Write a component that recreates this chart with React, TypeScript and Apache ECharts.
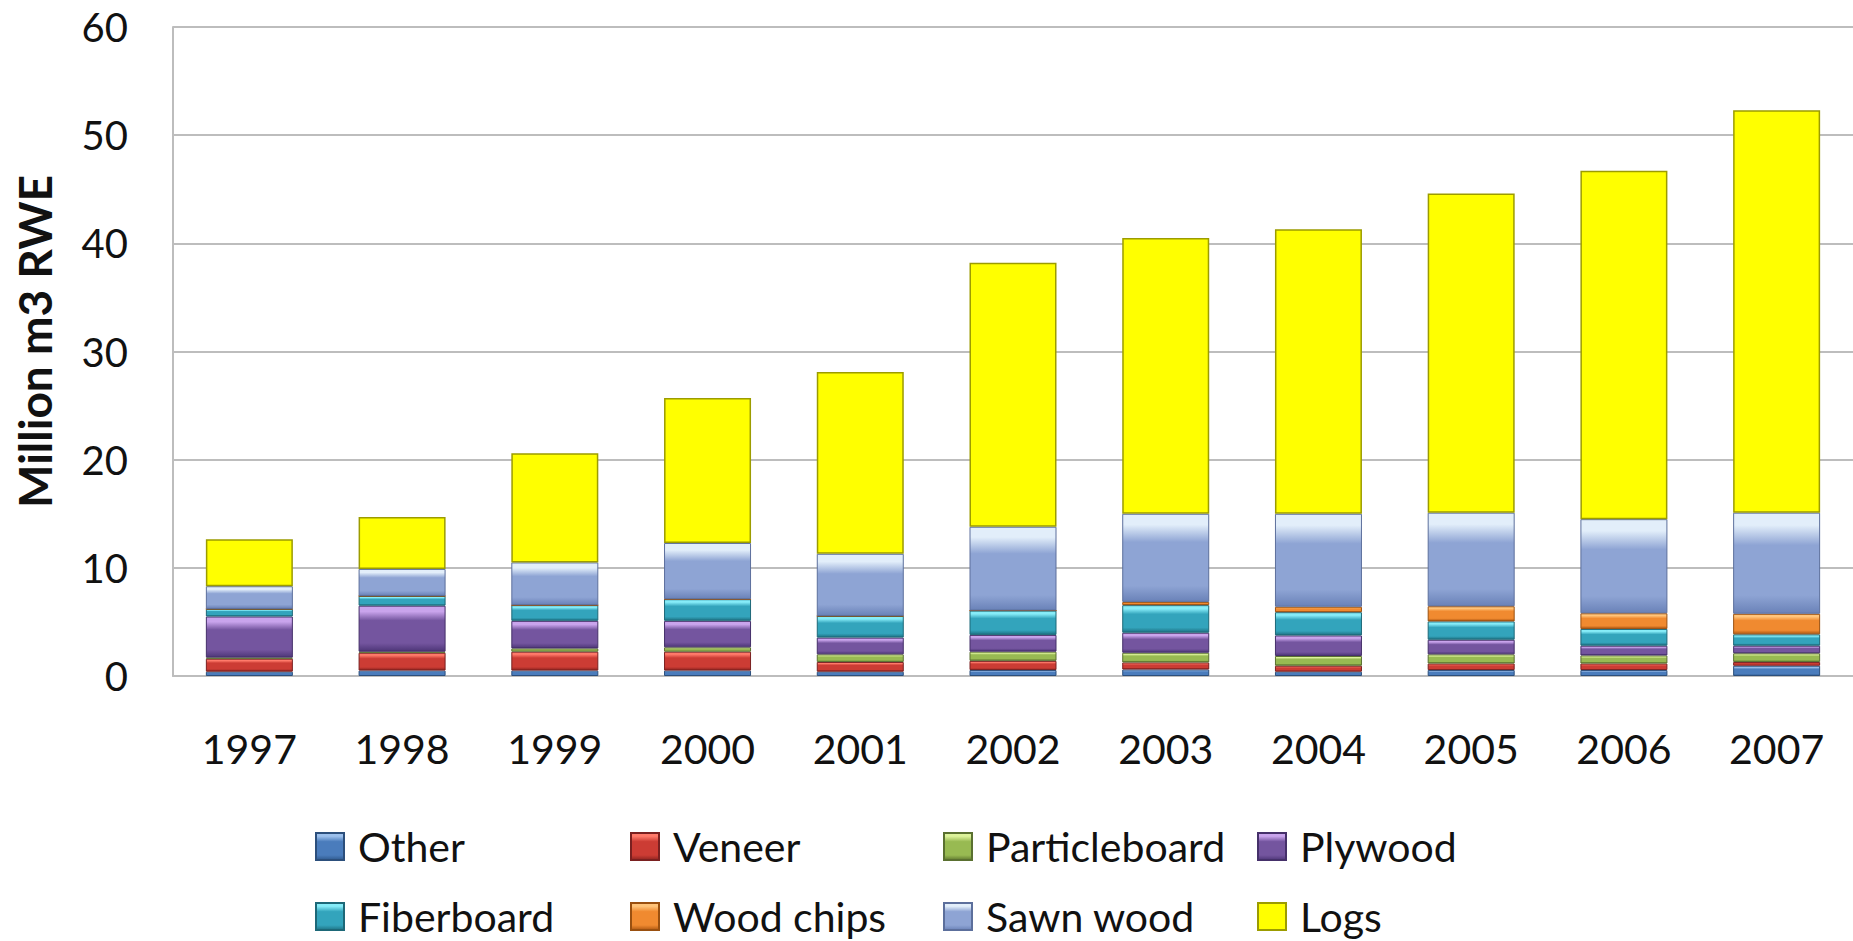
import React, { useEffect, useRef } from "react";
import * as echarts from "echarts";

const years = ["1997", "1998", "1999", "2000", "2001", "2002", "2003", "2004", "2005", "2006", "2007"];
const other = [0.4, 0.5, 0.5, 0.5, 0.4, 0.55, 0.6, 0.4, 0.55, 0.55, 0.95];
const veneer = [1.2, 1.65, 1.75, 1.75, 0.9, 0.85, 0.65, 0.55, 0.6, 0.6, 0.35];
const particleboard = [0.1, 0.1, 0.3, 0.4, 0.7, 0.85, 0.9, 0.9, 0.85, 0.75, 0.8];
const plywood = [3.8, 4.25, 2.55, 2.45, 1.55, 1.55, 1.85, 1.9, 1.35, 0.9, 0.7];
const fiberboard = [0.7, 0.9, 1.45, 2.0, 2.0, 2.25, 2.55, 2.15, 1.7, 1.55, 1.05];
const woodChips = [0, 0, 0, 0, 0, 0, 0.3, 0.5, 1.4, 1.45, 1.9];
const sawnWood = [2.1, 2.5, 3.95, 5.2, 5.75, 7.75, 8.15, 8.6, 8.65, 8.7, 9.35];
const logs = [4.35, 4.8, 10.1, 13.4, 16.8, 24.4, 25.5, 26.3, 29.5, 32.2, 37.2];

const seriesNames = ["Other", "Veneer", "Particleboard", "Plywood", "Fiberboard", "Wood chips", "Sawn wood", "Logs"];
const seriesData = [other, veneer, particleboard, plywood, fiberboard, woodChips, sawnWood, logs];
const yTicks = { min: 0, max: 60, interval: 10 };

// [highlight, base, dark, border]
const palettes: string[][] = [
  ["#9cc0ec", "#4a7cbc", "#2f5a8e", "#2c4f7c"],
  ["#ff7a6a", "#cc3c34", "#8e2420", "#7a2020"],
  ["#dcf29a", "#98ba52", "#617a30", "#5a7030"],
  ["#c9a4ec", "#74559f", "#4e3678", "#45306a"],
  ["#86ecf8", "#33a4bc", "#1e7384", "#1d6878"],
  ["#ffc47a", "#f08a30", "#b05812", "#9a5010"],
  ["#e2eefa", "#8ea4d4", "#6a82b8", "#5c6f9c"],
];

const gradFor = (p: string[]) =>
  new echarts.graphic.LinearGradient(0, 0, 0, 1, [
    { offset: 0, color: p[0] },
    { offset: 0.12, color: p[0] },
    { offset: 0.32, color: p[1] },
    { offset: 0.82, color: p[1] },
    { offset: 1, color: p[2] },
  ]);

const legendPos = [
  [315, 826], [630, 826], [943, 826], [1257, 826],
  [315, 896], [630, 896], [943, 896], [1257, 896],
];

export default function App() {
  const ref = useRef<HTMLDivElement>(null);
  useEffect(() => {
    if (!ref.current) return;
    const chart = echarts.init(ref.current, null, { renderer: "svg" });
    const font = "Lato, 'Open Sans', sans-serif";
    const series = seriesNames.map((name, i) => {
      const isLogs = i === 7;
      return {
        name,
        type: "bar",
        stack: "total",
        barWidth: 87,
        data: seriesData[i],
        itemStyle: isLogs
          ? { color: "#ffff00", borderColor: "#9c9c00", borderWidth: 1.5 }
          : { color: gradFor(palettes[i]), borderColor: palettes[i][3], borderWidth: 1 },
        emphasis: { disabled: true },
      };
    });
    const legends = seriesNames.map((name, i) => ({
      data: [name],
      left: legendPos[i][0],
      top: legendPos[i][1],
      orient: "horizontal",
      padding: 0,
      itemWidth: 28,
      itemHeight: 27,
      selectedMode: false,
      icon: "rect",
      textStyle: {
        fontFamily: font,
        fontSize: 41,
        lineHeight: 40,
        color: "#111",
        padding: [0, 0, 0, 9],
      },
    }));
    chart.setOption({
      animation: false,
      backgroundColor: "#ffffff",
      textStyle: { fontFamily: font },
      grid: { left: 173, right: -7, top: 27, bottom: 265 },
      legend: legends,
      xAxis: {
        type: "category",
        data: years,
        axisLine: { show: true, lineStyle: { color: "#bdbdbd", width: 2 } },
        axisTick: { show: false },
        axisLabel: { fontFamily: font, fontSize: 41, color: "#111", margin: 52 },
      },
      yAxis: {
        type: "value",
        min: yTicks.min,
        max: yTicks.max,
        interval: yTicks.interval,
        name: "Million m3 RWE",
        nameLocation: "middle",
        nameRotate: 90,
        nameGap: 116,
        nameTextStyle: { fontFamily: font, fontSize: 46, fontWeight: "bold", color: "#111", padding: [0, 0, 0, 20] },
        axisLine: { show: true, lineStyle: { color: "#bdbdbd", width: 2 } },
        axisTick: { show: false },
        splitLine: { show: true, lineStyle: { color: "#bdbdbd", width: 2 } },
        axisLabel: { fontFamily: font, fontSize: 40, color: "#111", margin: 45 },
      },
      series,
    });
    return () => chart.dispose();
  }, []);
  return (
    <div
      ref={ref}
      style={{ position: "fixed", left: 0, top: 0, width: 1853, height: 941, background: "#fff" }}
    />
  );
}
